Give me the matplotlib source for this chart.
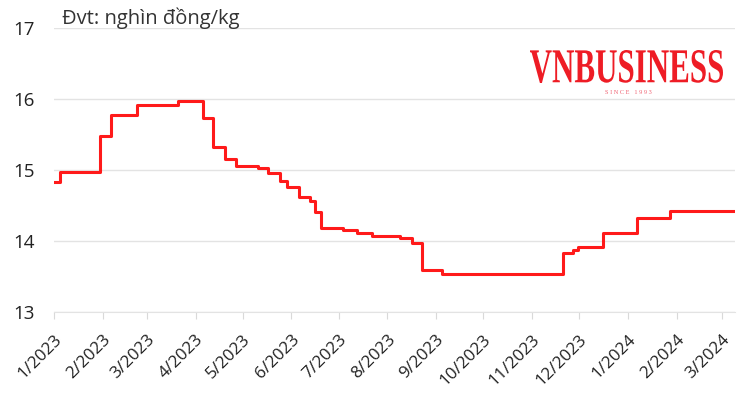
import matplotlib
matplotlib.use("Agg")
import matplotlib.pyplot as plt
from matplotlib.textpath import TextPath
from matplotlib.patches import PathPatch
from matplotlib.font_manager import FontProperties
from matplotlib.transforms import Affine2D
import pandas as pd

# ngày thay đổi giá và giá (nghìn đồng/kg)
dates = ["2023-01-01", "2023-01-05", "2023-01-30", "2023-02-06", "2023-02-23",
         "2023-03-21", "2023-04-06", "2023-04-12", "2023-04-20", "2023-04-27",
         "2023-05-11", "2023-05-17", "2023-05-25", "2023-05-29", "2023-06-06",
         "2023-06-13", "2023-06-16", "2023-06-20", "2023-07-04", "2023-07-13",
         "2023-07-22", "2023-08-09", "2023-08-17", "2023-08-23", "2023-09-05",
         "2023-11-21", "2023-11-27", "2023-11-30", "2023-12-16", "2024-01-07",
         "2024-01-28", "2024-03-08"]
prices = [14.83, 14.97, 15.48, 15.78, 15.92,
          15.97, 15.74, 15.33, 15.15, 15.06,
          15.03, 14.96, 14.84, 14.76, 14.62,
          14.57, 14.41, 14.19, 14.16, 14.11,
          14.07, 14.04, 13.97, 13.59, 13.53,
          13.83, 13.87, 13.91, 14.11, 14.33,
          14.42, 14.42]
tick_months = ["2023-01-01", "2023-02-01", "2023-03-01", "2023-04-01", "2023-05-01",
               "2023-06-01", "2023-07-01", "2023-08-01", "2023-09-01", "2023-10-01",
               "2023-11-01", "2023-12-01", "2024-01-01", "2024-02-01", "2024-03-01"]
tick_labels = ["1/2023", "2/2023", "3/2023", "4/2023", "5/2023", "6/2023", "7/2023",
               "8/2023", "9/2023", "10/2023", "11/2023", "12/2023", "1/2024",
               "2/2024", "3/2024"]

plt.rcParams['font.family'] = ['Open Sans', 'DejaVu Sans']

x = pd.to_datetime(dates)
fig = plt.figure(figsize=(7.52, 3.96), dpi=100)
ax = fig.add_axes([0.072, 0.212, 0.905, 0.717])

ax.step(x, prices, where="post", color="#ff1a1a", lw=2.2, zorder=3)

ax.set_ylim(13, 17)
ax.set_yticks([13, 14, 15, 16, 17])
ax.set_xlim(pd.Timestamp("2023-01-01"), pd.Timestamp("2024-03-09"))
ax.set_xticks(pd.to_datetime(tick_months))
ax.set_xticklabels(tick_labels, rotation=45, ha="right", va="top",
                   rotation_mode="anchor", fontsize=12.3, color="#222222")
ax.tick_params(axis="x", length=5, color="#d9d9d9", pad=9)
ax.tick_params(axis="y", length=0, pad=14, labelsize=13.5, labelcolor="#222222")
ax.grid(axis="y", color="#e3e3e3", lw=1)
for s in ["top", "right", "left"]:
    ax.spines[s].set_visible(False)
ax.spines["bottom"].set_color("#e3e3e3")

fig.text(0.083, 0.955, "Đvt: nghìn đồng/kg", fontsize=14.5, color="#333333",
         va="center", ha="left")

# logo
tp = TextPath((0, 0), "VNBUSINESS", size=1,
              prop=FontProperties(family="Liberation Serif", weight="bold"))
ext = tp.get_extents()
x0, x1 = 530 / 752, 723 / 752
y0, y1 = 1 - 83 / 396, 1 - 50 / 396
sx = (x1 - x0) / ext.width
sy = (y1 - y0) / ext.height
tr = Affine2D().translate(-ext.x0, -ext.y0).scale(sx, sy).translate(x0, y0) + fig.transFigure
fig.patches.append(PathPatch(tp, transform=tr, color="#ee1c25", lw=0))
fig.text((x0 + x1) / 2 + 0.003, 1 - 93 / 396, "S I N C E   1 9 9 3", fontsize=4.5,
         color="#f06070", ha="center", va="center", family="Liberation Serif")

fig.savefig("out.png", dpi=100)
